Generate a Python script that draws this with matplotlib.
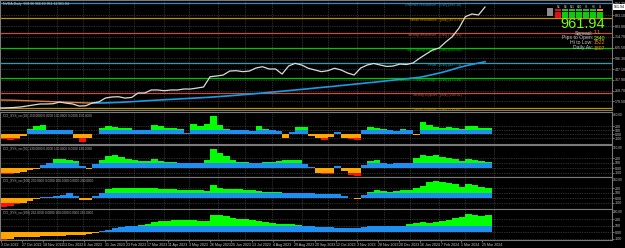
import numpy as np
import matplotlib.pyplot as plt
import matplotlib.transforms as mtransforms
from matplotlib.patches import Rectangle

plt.rcParams['font.family'] = ['Liberation Sans', 'DejaVu Sans']

W, H = 625, 248

# one sample every 5 daily bars (bar index 0 = 3 Oct 2022)
bar_idx = np.arange(0, 371, 5)

close = [124.6, 126, 128.8, 132.9, 141.2, 149.5, 157.8, 158, 160, 174,
         165, 158, 141, 143, 166, 175, 207, 216, 218, 207,
         212, 249, 249, 274, 274, 268, 274, 274, 282, 282,
         290, 299, 384, 390, 398, 431, 434, 426, 431, 456,
         467, 448, 448, 406, 473, 495, 481, 454, 440, 426,
         434, 454, 440, 415, 398, 456, 481, 494, 481, 469,
         473, 489, 485, 498, 537, 572, 606, 622, 672, 716,
         785, 882, 904, 896, 961.94]

ma = [191, 190, 189, 187, 185, 183, 181, 179, 177, 175,
      173, 171, 169, 167, 166, 166, 167, 169, 171, 174,
      177, 180, 184, 187, 190, 193, 196, 199, 202, 205,
      208, 211, 214, 218, 222, 226, 230, 235, 239, 244,
      249, 254, 259, 264, 269, 274, 279, 284, 290, 295,
      300, 305, 311, 316, 322, 327, 333, 338, 344, 350,
      356, 361, 367, 373, 379, 390, 402, 414, 428, 444,
      460, 474, 486, 497, 508]

cci20 = [-130, -150, -130, -40, 120, 200, 230, 110, 95, 110,
         90, -100, -210, -90, 10, 160, 190, 170, 150, 160,
         100, 90, 110, 220, 190, 150, 140, 120, 30, 240,
         200, 250, 460, 220, 120, 110, 100, 90, 80, 200,
         130, 90, 70, -90, 40, 170, 180, -40, -100, -150,
         -80, 60, -90, -130, -160, 110, 180, 160, 130, 90,
         80, 130, 90, -20, 300, 220, 180, 160, 170, 150,
         120, 190, 200, 160, 150]

cci50 = [-125, -115, -95, -70, -45, -10, 60, 100, 190, 185,
         165, 150, 40, -10, 90, 170, 250, 255, 230, 180,
         160, 140, 150, 180, 150, 130, 120, 110, 100, 105,
         110, 170, 390, 300, 240, 170, 130, 115, 110, 110,
         120, 115, 150, 160, 170, 165, 90, 20, -100, -125,
         -110, 40, -60, -130, -150, 60, 140, 160, 110, 90,
         95, 105, 110, 200, 260, 250, 260, 230, 200, 180,
         150, 190, 170, 140, 130]

cci100 = [-170, -160, -125, -95, -65, -25, 20, 30, 45, 60,
          110, 40, -30, -35, 50, 110, 180, 200, 205, 200,
          195, 210, 205, 195, 190, 180, 175, 170, 165, 160,
          155, 145, 260, 200, 190, 180, 175, 170, 160, 145,
          130, 125, 115, 110, 108, 105, 100, 95, 90, 85,
          80, 75, 45, 10, -20, 60, 120, 160, 140, 130,
          140, 160, 170, 200, 240, 330, 340, 320, 295, 280,
          215, 285, 270, 220, 200]

cci200 = [-120, -110, -80, -75, -72, -70, -66, -62, -60, -55,
          -50, -48, -45, -32, -15, 10, 35, 55, 75, 90,
          100, 105, 130, 160, 170, 175, 180, 185, 185, 180,
          175, 172, 265, 260, 240, 220, 205, 195, 185, 175,
          150, 140, 130, 125, 120, 110, 90, 85, 80, 75,
          72, 68, 62, 58, 60, 80, 90, 92, 90, 88,
          90, 95, 120, 140, 150, 135, 160, 170, 190, 210,
          230, 280, 255, 245, 262]

cci_periods = [20, 50, 100, 200]

levels = [995.10, 870.76, 746.41, 622.06, 497.71, 373.36, 249.01, 124.66]
level_names = ['Ultimate resistance', 'Weak resistance', 'Strong resistance',
               'Top Trading Range', 'Pivot', 'Bottom Trading Range',
               'Strong support', 'Weak support']
level_colors = ['#2f8fc4', '#b8900c', '#c4503c', '#00c400',
                '#1fa3b4', '#00c400', '#c4503c', '#b8900c']

date_labels = ['3 Oct 2022', '27 Oct 2022', '18 Nov 2022', '13 Dec 2022',
               '6 Jan 2023', '31 Jan 2023', '23 Feb 2023', '17 Mar 2023',
               '11 Apr 2023', '3 May 2023', '26 May 2023', '20 Jun 2023',
               '13 Jul 2023', '4 Aug 2023', '29 Aug 2023', '20 Sep 2023',
               '12 Oct 2023', '3 Nov 2023', '28 Nov 2023', '20 Dec 2023',
               '16 Jan 2024', '7 Feb 2024', '1 Mar 2024', '25 Mar 2024']
date_bars = [0, 16, 32, 48, 64, 80, 96, 112, 128, 144, 160, 176,
             192, 208, 224, 240, 256, 272, 288, 304, 320, 336, 352, 368]
month_bars = [21, 43, 63, 83, 102, 125, 144, 166, 187, 207, 230, 250,
              272, 293, 313, 335, 355, 377]

main_ticks = [994.29, 893.10, 803.90, 714.70, 625.50, 536.30, 447.10,
              357.90, 268.70, 179.50]
last_price = 961.94

tf_names = ['M1', 'M5', 'M15', 'M30', 'H1', 'H4', 'D1']
tf_top = ['#e01010', '#10c810', '#10c810', '#10c810', '#10c810', '#10c810', '#ff8c00']
tf_cell = ['#e01010', '#10c810', '#10c810', '#10c810', '#10c810', '#10c810', '#10c810']

info_labels = ['Spread:', 'Pips to Open:', 'Hi to Low:', 'Daily Av:']
info_values = ['1.1', '2340', '1522', '1807']
info_colors = ['#ff8c00', '#adff2f', '#ff8c00', '#ff8c00']

GRID = '#5a5a5a'
TXT = '#c8c8c8'

fig = plt.figure(figsize=(W / 100, H / 100), dpi=100, facecolor='black')


def box(top, bottom):
    return [0, 1 - bottom / H, 612 / W, (bottom - top) / H]


def style(a):
    a.set_facecolor('black')
    for s in a.spines.values():
        s.set_color('#7a7a7a')
        s.set_linewidth(0.8)
    a.yaxis.tick_right()
    a.tick_params(axis='y', labelsize=2.6, colors=TXT, length=1.5, width=0.4, pad=0.6)
    a.tick_params(axis='x', length=0, labelbottom=False)
    a.set_xlim(-0.5, 467)
    for m in month_bars:
        a.axvline(m, color=GRID, lw=0.5, ls=(0, (1, 1.5)), zorder=0)


# main price window
ax = fig.add_axes(box(0, 110))
style(ax)
ax.set_ylim(108.07, 1019.97)
ax.set_yticks(main_ticks)
ax.set_yticklabels([f'{t:.2f}' for t in main_ticks])
for t in main_ticks:
    ax.axhline(t, color=GRID, lw=0.5, ls=(0, (1, 1.5)), zorder=0)

for lvl, name, c in zip(levels, level_names, level_colors):
    ax.axhline(lvl, color=c, lw=0.9, zorder=1)
    ax.text(352, lvl - 16, f'{name} - [0W] ({lvl:.2f})', ha='right', va='center',
            fontsize=2.6, color=c, clip_on=True, zorder=3)

ax.plot(bar_idx[:15], ma[:15], color='#e08030', lw=1.0, zorder=2)
ax.plot(bar_idx[14:], ma[14:], color='#1a9be8', lw=1.2, zorder=2)
ax.plot(bar_idx, close, color='#dcdcdc', lw=0.9, zorder=4)

ax.text(0.005, 0.985, 'NVDA,Daily  958.96 966.60 951.11 961.94', transform=ax.transAxes,
        va='top', ha='left', fontsize=2.5, color=TXT)
trans = mtransforms.blended_transform_factory(ax.transAxes, ax.transData)
ax.text(1.003, last_price, f'{last_price:.2f}', transform=trans, fontsize=2.6,
        color='black', va='center', ha='left', clip_on=False,
        bbox=dict(boxstyle='square,pad=0.15', fc='white', ec='none'))

# indicator windows
panel_boxes = [(112, 144), (145, 177), (177, 209), (209, 240)]
panel_lims = [(-250, 550), (-180, 460), (-220, 420), (-123, 354)]
cci_sets = [cci20, cci50, cci100, cci200]
panels = []
for (t, b), lim, vals, per in zip(panel_boxes, panel_lims, cci_sets, cci_periods):
    a = fig.add_axes(box(t, b))
    style(a)
    a.set_ylim(*lim)
    v = np.array(vals, float)
    a.bar(bar_idx, np.clip(v, 0, 100), width=5, align='edge', color='#1e8ff0', lw=0)
    a.bar(bar_idx, np.clip(v - 100, 0, None), bottom=100, width=5, align='edge',
          color='#00ff00', lw=0)
    a.bar(bar_idx, np.clip(v, -100, 0), width=5, align='edge', color='#ffa500', lw=0)
    a.bar(bar_idx, np.clip(v + 100, None, 0), bottom=-100, width=5, align='edge',
          color='#ff1010', lw=0)
    yt = [200, 100, 0, -100]
    a.set_yticks(yt)
    a.set_yticklabels(['200', '100', '0.00', '-100'])
    for y in yt:
        a.axhline(y, color=GRID, lw=0.5, ls=(0, (1, 1.5)), zorder=0)
    top = max(vals)
    a.text(0.005, 0.93, f'CCI_SYS_vo ({per}) {vals[-1]:.4f} 0.0000 100.0000 0.0000 {vals[-1]:.4f}',
           transform=a.transAxes, va='top', ha='left', fontsize=2.3, color='#b4b4b4')
    a.text(1.002, 0.9, f'{top:.2f}', transform=a.transAxes, va='center', ha='left',
           fontsize=2.3, color=TXT)
    panels.append(a)

bottom_ax = panels[-1]
bottom_ax.set_xticks(date_bars)
bottom_ax.set_xticklabels(date_labels, ha='left')
bottom_ax.tick_params(axis='x', labelbottom=True, length=1.5, width=0.4,
                      labelsize=2.6, colors=TXT, pad=0.8)


# info block, top right
def fp(x, y):
    return x / W, 1 - y / H


fig.patches.append(Rectangle(fp(547, 16), 6 / W, 8 / H, transform=fig.transFigure,
                             fc='#8c8c8c', ec='none'))
for k, (name, ct, cc) in enumerate(zip(tf_names, tf_top, tf_cell)):
    x0 = 555 + 7 * k
    fig.text(*fp(x0 + 3.2, 7.2), name, ha='center', va='center', fontsize=1.9, color=TXT)
    fig.patches.append(Rectangle(fp(x0, 11), 6.2 / W, 1.6 / H, transform=fig.transFigure,
                                 fc=ct, ec='none'))
    fig.patches.append(Rectangle(fp(x0, 17.5), 6.2 / W, 6 / H, transform=fig.transFigure,
                                 fc=cc, ec='none'))

fig.text(*fp(605, 24), f'{last_price:.2f}', ha='right', va='center', fontsize=10.5,
         color='#7cfc00')
for i, (lab, val, c) in enumerate(zip(info_labels, info_values, info_colors)):
    y = 33 + 5 * i
    fig.text(*fp(593, y), lab, ha='right', va='center', fontsize=3.7, color=TXT)
    fig.text(*fp(594, y), val, ha='left', va='center', fontsize=3.7, color=c)

fig.savefig('out.png', dpi=100, facecolor='black')
